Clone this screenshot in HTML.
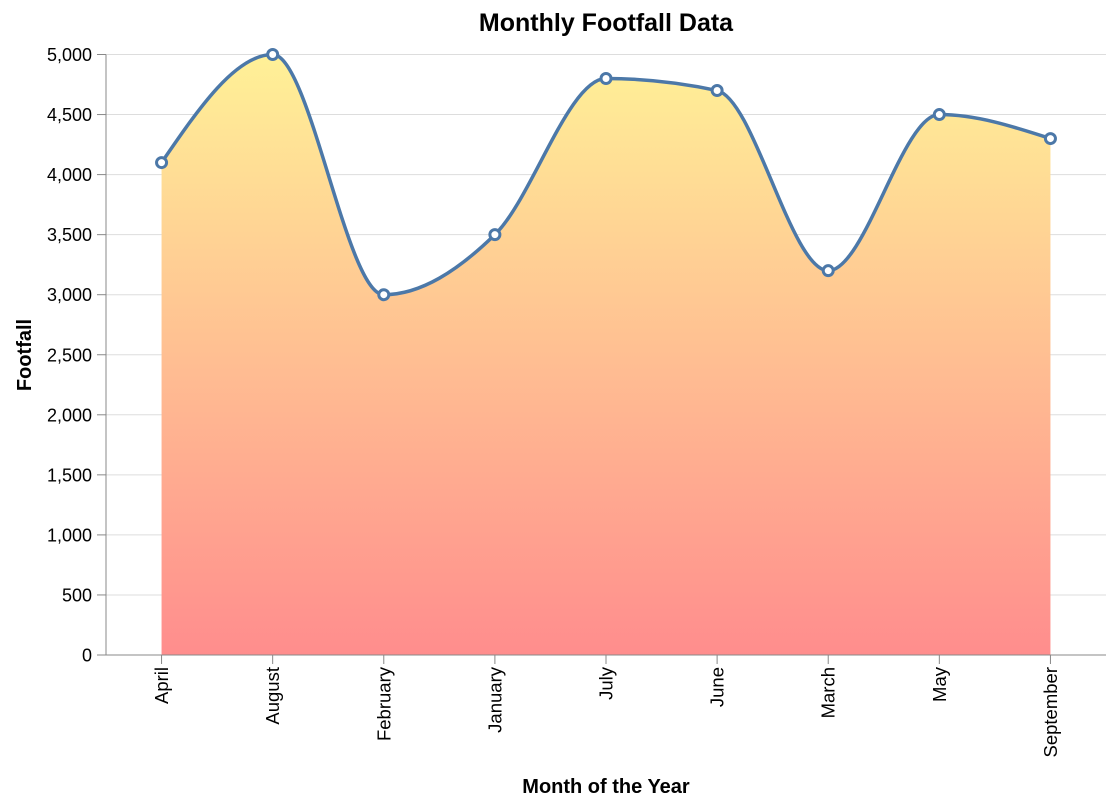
<!DOCTYPE html>
<html><head><meta charset="utf-8"><style>
body{margin:0;background:#fff;}
svg text{font-family:"Liberation Sans",Arial,sans-serif;}
</style></head><body>
<svg id="chart" width="1116" height="806">
<defs><linearGradient id="grad" x1="0" y1="0" x2="0" y2="1">
<stop offset="0" stop-color="#fff197"/><stop offset="1" stop-color="#ff8d8d"/></linearGradient></defs>
<text x="606" y="31" text-anchor="middle" font-size="25" font-weight="bold">Monthly Footfall Data</text>
<g id="grid"></g><g id="area"></g><g id="axes"></g><g id="marks"></g>
<text transform="translate(31,355) rotate(-90)" text-anchor="middle" font-size="20" font-weight="bold">Footfall</text>
<text x="606" y="793" text-anchor="middle" font-size="20" font-weight="bold">Month of the Year</text>
</svg>
<script>
const categories=["April","August","February","January","July","June","March","May","September"];
const values=[4100,5000,3000,3500,4800,4700,3200,4500,4300];
const yTicks=[0,500,1000,1500,2000,2500,3000,3500,4000,4500,5000];
const NS="http://www.w3.org/2000/svg";
const L=106,R=1106,T=54.5,B=655;
const step=(R-L)/categories.length;
const xS=i=>L+step*(i+0.5);
const yS=v=>B-(v/5000)*(B-T);
function mk(t,a,p){const e=document.createElementNS(NS,t);for(const k in a)e.setAttribute(k,a[k]);p.appendChild(e);return e;}
const grid=document.getElementById('grid'),axes=document.getElementById('axes');
yTicks.forEach(v=>{
 const g=mk('line',{x1:L,x2:R,y1:yS(v),y2:yS(v),stroke:'#ddd','stroke-width':1},grid);
 
 
 mk('line',{x1:L-9,x2:L,y1:yS(v),y2:yS(v),stroke:'#888'},axes);
 const t=mk('text',{x:L-14,y:yS(v)+6.5,'text-anchor':'end','font-size':18},axes);
 t.textContent=v.toLocaleString('en-US');
 
 
});
mk('line',{x1:L,x2:L,y1:T,y2:B,stroke:'#888'},axes);
mk('line',{x1:L,x2:R,y1:B,y2:B,stroke:'#888'},axes);
categories.forEach((c,i)=>{
 mk('line',{x1:xS(i),x2:xS(i),y1:B,y2:B+9,stroke:'#888'},axes);
 const t=mk('text',{transform:`translate(${xS(i)+6.5},${B+12}) rotate(-90)`,'text-anchor':'end','font-size':18.5},axes);
 t.textContent=c;
 
 
});
const xs=categories.map((c,i)=>xS(i)),ys=values.map(v=>yS(v));
const n=xs.length,sg=v=>v<0?-1:1,t=[];
for(let i=1;i<n-1;i++){const h0=xs[i]-xs[i-1],h1=xs[i+1]-xs[i],s0=(ys[i]-ys[i-1])/h0,s1=(ys[i+1]-ys[i])/h1,p=(s0*h1+s1*h0)/(h0+h1);
 t[i]=(sg(s0)+sg(s1))*Math.min(Math.abs(s0),Math.abs(s1),0.5*Math.abs(p))||0;}
t[0]=(3*(ys[1]-ys[0])/(xs[1]-xs[0])-t[1])/2;
t[n-1]=(3*(ys[n-1]-ys[n-2])/(xs[n-1]-xs[n-2])-t[n-2])/2;
let d=`M${xs[0]},${ys[0]}`;
for(let i=0;i<n-1;i++){const dx=(xs[i+1]-xs[i])/3;
 d+=`C${xs[i]+dx},${ys[i]+dx*t[i]} ${xs[i+1]-dx},${ys[i+1]-dx*t[i+1]} ${xs[i+1]},${ys[i+1]}`;}
const area=mk('path',{d:d+`L${xs[n-1]},${B}L${xs[0]},${B}Z`,fill:'url(#grad)'},document.getElementById('area'));


const marks=document.getElementById('marks');
const line=mk('path',{d:d,fill:'none',stroke:'#4c78a8','stroke-width':3.5},marks);


values.forEach((v,i)=>{
 const c=mk('circle',{cx:xS(i),cy:yS(v),r:5,fill:'#fff',stroke:'#4c78a8','stroke-width':3},marks);
 
 
});
</script>
</body></html>
